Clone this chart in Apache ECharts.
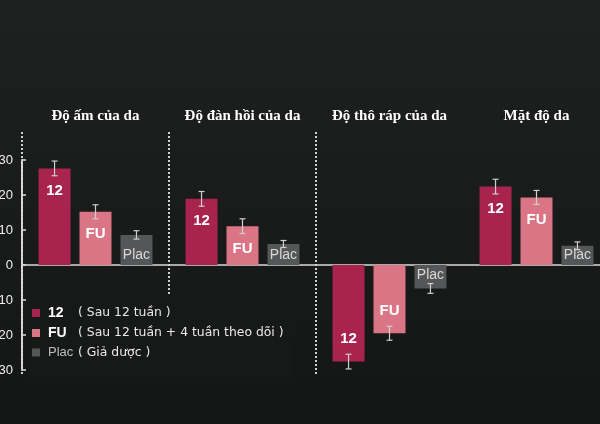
<!DOCTYPE html>
<html>
<head>
<meta charset="utf-8">
<script src="https://cdn.jsdelivr.net/npm/echarts@6/dist/echarts.min.js"></script>
<style>
html,body{margin:0;padding:0;background:#1a1b1b;}
#c{width:600px;height:424px;}
</style>
</head>
<body>
<div id="c"></div>
<script>
var categories = ['Độ ấm của da', 'Độ đàn hồi của da', 'Độ thô ráp của da', 'Mặt độ da'];
var seriesNames = ['12', 'FU', 'Plac'];
var legendNotes = ['( Sau 12 tuần )', '( Sau 12 tuần + 4 tuần theo dõi )', '( Giả dược )'];
var values12 = [27.6, 18.9, -27.6, 22.4];
var valuesFU = [15.2, 11.1, -19.5, 19.3];
var valuesPlac = [8.6, 6.0, -6.7, 5.5];
var err12 = [2.1, 2.1, 2.1, 2.1];
var errFU = [2.0, 2.1, 2.0, 2.0];
var errPlac = [1.2, 1.0, 1.4, 1.1];
var yTicks = [-30, -20, -10, 0, 10, 20, 30];
var colors = ['#a8244f', '#d97584', '#555657'];

var chart = echarts.init(document.getElementById('c'));

function barData(vals, name) {
  return vals.map(function (v) {
    var pos;
    if (name === 'Plac') pos = v >= 0 ? 'insideBottom' : 'insideTop';
    else pos = v >= 0 ? 'insideTop' : 'insideBottom';
    return { value: v, label: { position: pos } };
  });
}

var allVals = [values12, valuesFU, valuesPlac];
var allErr = [err12, errFU, errPlac];

var series = [];
seriesNames.forEach(function (n, si) {
  series.push({
    name: n,
    type: 'bar',
    barWidth: 32,
    barGap: '28%',
    itemStyle: { color: colors[si] },
    label: {
      show: true,
      formatter: n,
      color: n === 'Plac' ? '#d8d8d8' : '#ffffff',
      fontFamily: 'Liberation Sans, Arial, sans-serif',
      fontWeight: n === 'Plac' ? 'normal' : 'bold',
      fontSize: n === 'Plac' ? 14 : 15,
      distance: n === 'Plac' ? 3 : 15
    },
    data: barData(allVals[si], n),
    z: 2
  });
});

// error bars
var errData = [];
categories.forEach(function (c, ci) {
  seriesNames.forEach(function (n, si) {
    errData.push([ci, allVals[si][ci], allErr[si][ci], si]);
  });
});
series.push({
  type: 'custom',
  name: 'err',
  data: errData,
  z: 5,
  renderItem: function (params, api) {
    var ci = api.value(0), v = api.value(1), e = api.value(2), si = api.value(3);
    var barW = 32, gap = 32 * 0.28;
    var total = barW * 3 + gap * 2;
    var cx = api.coord([ci, 0])[0] - total / 2 + si * (barW + gap) + barW / 2;
    var yTop = api.coord([ci, v + e])[1];
    var yBot = api.coord([ci, v - e])[1];
    var st = { stroke: '#cfcfcf', lineWidth: 1.2 };
    return {
      type: 'group',
      children: [
        { type: 'line', shape: { x1: cx, y1: yTop, x2: cx, y2: yBot }, style: st },
        { type: 'line', shape: { x1: cx - 3, y1: yTop, x2: cx + 3, y2: yTop }, style: st },
        { type: 'line', shape: { x1: cx - 3, y1: yBot, x2: cx + 3, y2: yBot }, style: st }
      ]
    };
  }
});

// dotted separators between categories
series.push({
  type: 'custom',
  name: 'sep',
  data: [1, 2, 3],
  clip: false,
  z: 1,
  renderItem: function (params, api) {
    var i = api.value(0);
    var bandW = api.size([1, 0])[0];
    var x = api.coord([i, 0])[0] - bandW / 2;
    var yT = api.coord([i, 30])[1] - 28;
    var yB = api.coord([i, -30])[1] + 5;
    return {
      type: 'line',
      shape: { x1: x, y1: yT, x2: x, y2: yB },
      style: { stroke: '#d0d0d0', lineWidth: 2, lineDash: [2, 2] }
    };
  }
});

var option = {
  backgroundColor: {
    type: 'linear', x: 0, y: 0, x2: 0, y2: 1,
    colorStops: [{ offset: 0, color: '#1f2020' }, { offset: 1, color: '#141515' }]
  },
  animation: false,
  color: colors,
  grid: { left: 22, right: -10, top: 160, bottom: 54, containLabel: false, outerBoundsMode: 'none' },
  legend: {
    orient: 'vertical',
    left: 28,
    top: 295,
    padding: [11, 10, 18, 4],
    backgroundColor: '#171818',
    z: 10,
    data: seriesNames,
    icon: 'rect',
    itemWidth: 8,
    itemHeight: 8,
    itemGap: 6,
    textStyle: {
      color: '#e8e8e8',
      rich: {
        b: { width: 30, padding: [0, 0, 0, 3], fontWeight: 'bold', fontSize: 14, color: '#ffffff', fontFamily: 'Liberation Sans, Arial, sans-serif', lineHeight: 14 },
        p: { width: 30, padding: [0, 0, 0, 3], fontSize: 13, color: '#bdbdbd', fontFamily: 'Liberation Sans, Arial, sans-serif', lineHeight: 14 },
        n: { fontSize: 12.4, color: '#e8e8e8', fontFamily: 'DejaVu Sans, sans-serif', lineHeight: 14 }
      }
    },
    formatter: function (name) {
      var i = seriesNames.indexOf(name);
      var key = name === 'Plac' ? 'p' : 'b';
      return '{' + key + '|' + name + '}{n|' + legendNotes[i] + '}';
    }
  },
  xAxis: [
    {
      type: 'category',
      data: categories,
      axisLine: { onZero: true, lineStyle: { color: '#a9a9a9', width: 2 } },
      axisTick: { show: false },
      axisLabel: { show: false },
      splitLine: { show: false }
    },
    {
      type: 'category',
      data: categories,
      position: 'top',
      axisLine: { show: false },
      axisTick: { show: false },
      axisLabel: {
        show: true,
        interval: 0,
        margin: 36,
        color: '#ffffff',
        fontFamily: 'Liberation Serif, DejaVu Serif, serif',
        fontWeight: 'bold',
        fontSize: 15
      }
    }
  ],
  yAxis: {
    type: 'value',
    min: -30,
    max: 30,
    interval: 10,
    axisLine: { show: true, lineStyle: { color: '#dcdcdc', width: 2 } },
    axisTick: { show: true, inside: true, length: 4, lineStyle: { color: '#dcdcdc', width: 1.5 } },
    splitLine: { show: false },
    axisLabel: {
      color: '#eeeeee',
      fontSize: 13,
      margin: 9,
      fontFamily: 'Liberation Sans, Arial, sans-serif',
      formatter: function (v) { return yTicks.indexOf(v) >= 0 ? String(Math.abs(v)) : ''; }
    }
  },
  series: series
};
chart.setOption(option);
</script>
</body>
</html>
